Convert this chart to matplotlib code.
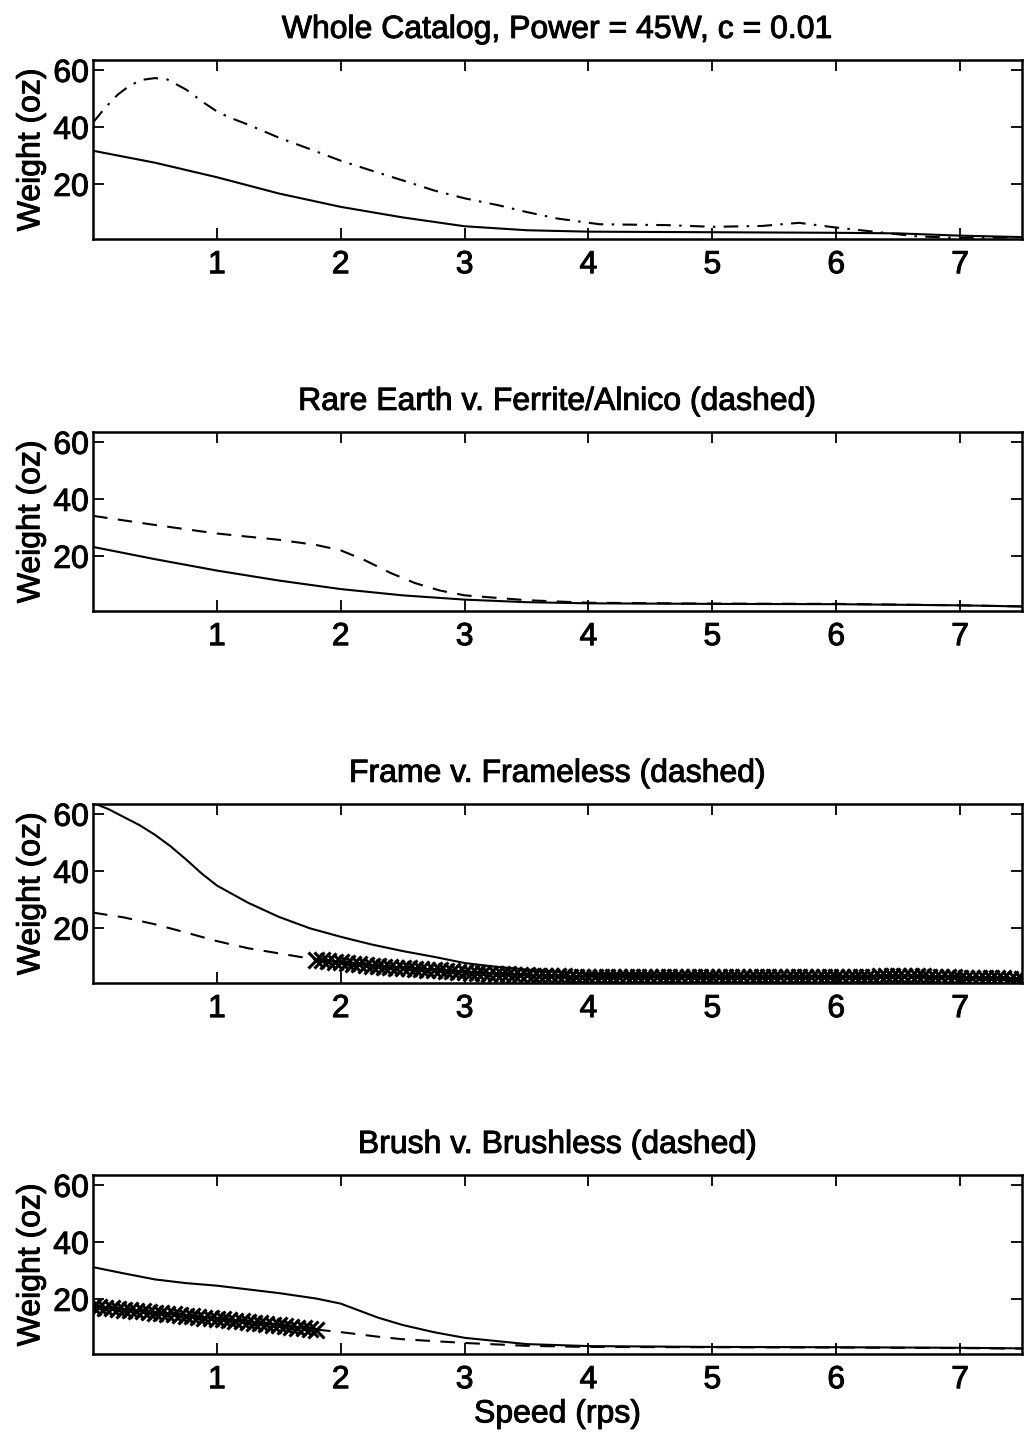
import numpy as np
import matplotlib

matplotlib.use("Agg")
import matplotlib.pyplot as plt
import matplotlib.patheffects as pe

plt.rcParams["font.family"] = ["Liberation Sans", "DejaVu Sans"]

# panel 1: whole catalog
p1_solid_x = [0, 0.5, 1, 1.5, 2, 2.5, 3, 3.5, 4, 5, 6, 6.5, 7, 7.5]
p1_solid_y = [31.8, 27.6, 22.5, 16.8, 12.1, 8.4, 5.3, 3.9, 3.4, 3.2, 3.0, 2.8, 2.0, 1.5]
p1_dashdot_x = [0, 0.1, 0.2, 0.3, 0.4, 0.5, 0.6, 0.75, 0.9, 1.0, 1.1, 1.25, 1.5, 1.75,
                2.0, 2.25, 2.5, 2.75, 3.0, 3.28, 3.5, 3.75, 4.09, 4.63, 5.0, 5.4, 5.7,
                5.97, 6.24, 6.64, 6.97, 7.5]
p1_dashdot_y = [41.7, 47.0, 51.5, 54.8, 56.7, 57.3, 56.8, 53.3, 48.5, 45.6, 43.5, 41.0,
                36.4, 32.4, 28.3, 24.8, 21.4, 17.9, 15.1, 12.6, 10.3, 8.0, 6.0, 5.7,
                5.1, 5.4, 6.5, 5.0, 3.7, 1.8, 1.2, 1.4]

# panel 2: rare earth (solid) v. ferrite/alnico (dashed)
p2_solid_x = [0, 0.5, 1, 1.5, 2, 2.5, 3, 3.5, 4, 5, 6, 7, 7.5]
p2_solid_y = [23.3, 19.0, 15.0, 11.5, 8.5, 6.3, 4.8, 3.9, 3.5, 3.3, 3.2, 2.8, 2.4]
p2_dash_x = [0, 0.5, 1, 1.5, 1.8, 2, 2.2, 2.4, 2.6, 2.8, 3, 3.5, 4, 5, 6, 7, 7.5]
p2_dash_y = [34.2, 31.0, 28.0, 25.8, 24.0, 22.1, 18.5, 14.2, 10.6, 8.0, 6.3, 4.6, 3.7,
             3.4, 3.3, 2.8, 2.4]

# panel 3: frame (solid) v. frameless (dashed, x marks)
p3_solid_x = [0, 0.125, 0.25, 0.375, 0.5, 0.625, 0.75, 0.875, 1, 1.25, 1.5, 1.75, 2,
              2.25, 2.5, 2.75, 3, 3.25, 3.5, 4, 5, 6, 6.5, 7, 7.5]
p3_solid_y = [64.0, 61.8, 59.0, 56.2, 52.8, 48.8, 44.2, 39.3, 35.0, 29.0, 24.0, 20.0,
              17.0, 14.3, 12.0, 10.0, 7.8, 6.5, 5.5, 4.0, 3.5, 3.3, 3.5, 2.8, 1.8]
p3_dash_x = [0, 0.25, 0.5, 0.75, 1.0, 1.25, 1.5, 1.8]
p3_dash_y = [25.5, 23.8, 21.4, 18.5, 15.5, 13.0, 11.2, 9.0]
p3_mark_x = np.linspace(1.8, 7.5, 115)  # sampled every 0.05 rps
p3_mark_y = [9.0, 8.7, 8.5, 8.2, 8.0, 7.7, 7.5, 7.3, 7.1, 6.9, 6.7, 6.5, 6.4, 6.2, 6.1,
             5.9, 5.8, 5.6, 5.5, 5.3, 5.2, 5.0, 4.9, 4.7, 4.6, 4.4, 4.3, 4.2, 4.1, 4.0,
             3.9, 3.8, 3.7, 3.6, 3.5, 3.4, 3.4, 3.3, 3.2, 3.1, 3.1, 3.0, 3.0, 3.0, 3.0,
             3.0, 2.9, 2.9, 2.9, 2.9, 2.9, 2.9, 2.9, 2.9, 2.9, 2.9, 2.9, 2.9, 2.9, 2.9,
             2.9, 2.9, 2.9, 2.9, 2.9, 2.9, 2.9, 2.9, 2.9, 2.9, 2.9, 2.9, 2.9, 2.9, 2.9,
             2.9, 2.9, 2.9, 2.9, 2.9, 2.9, 2.9, 2.9, 2.9, 2.9, 2.9, 2.9, 2.9, 2.9, 2.9,
             2.9, 3.1, 3.2, 3.3, 3.4, 3.4, 3.4, 3.3, 3.2, 3.0, 2.9, 2.9, 2.8, 2.8, 2.7,
             2.7, 2.6, 2.6, 2.5, 2.5, 2.4, 2.4, 2.3, 2.3, 2.2]

# panel 4: brush (solid) v. brushless (dashed, x marks)
p4_solid_x = [0, 0.25, 0.5, 0.75, 1, 1.5, 1.8, 2, 2.3, 2.5, 2.75, 3, 3.5, 4, 5, 6, 7,
              7.5]
p4_solid_y = [31.3, 29.1, 27.0, 25.7, 24.8, 22.2, 20.3, 18.5, 13.6, 11.0, 8.5, 6.5, 4.3,
              3.6, 3.3, 3.2, 3.0, 2.8]
p4_dash_x = [1.8, 2.0, 2.3, 2.5, 3.0, 3.5, 4.0, 5, 6, 7, 7.5]
p4_dash_y = [9.4, 8.5, 6.9, 6.0, 4.7, 3.7, 3.3, 3.2, 3.1, 2.9, 2.7]
p4_mark_x = np.linspace(0, 1.8, 37)  # sampled every 0.05 rps
p4_mark_y = [17.4, 17.2, 17.0, 16.8, 16.6, 16.4, 16.2, 16.0, 15.8, 15.5, 15.3, 15.1,
             14.9, 14.7, 14.5, 14.3, 14.0, 13.8, 13.6, 13.4, 13.2, 13.0, 12.7, 12.5,
             12.3, 12.0, 11.8, 11.6, 11.3, 11.1, 10.9, 10.6, 10.4, 10.1, 9.9, 9.6, 9.4]

titles = ["Whole Catalog, Power = 45W, c = 0.01",
          "Rare Earth v. Ferrite/Alnico (dashed)",
          "Frame v. Frameless (dashed)",
          "Brush v. Brushless (dashed)"]

FS = 23
LW = 1.5
DASH = (0, (7, 5))
DASHDOT = (0, (7, 4, 1.2, 4))
THICK = [pe.withStroke(linewidth=0.7, foreground="k")]  # scanned text looks heavy

fig = plt.figure(figsize=(10.29, 14.35), dpi=100)
bottoms = [0.8334, 0.5742, 0.3150, 0.0564]
axes = [fig.add_axes([0.0904, b, 0.9028, 0.1247]) for b in bottoms]

a1, a2, a3, a4 = axes
a1.plot(p1_solid_x, p1_solid_y, color="k", lw=LW)
a1.plot(p1_dashdot_x, p1_dashdot_y, color="k", lw=LW, linestyle=DASHDOT)

a2.plot(p2_solid_x, p2_solid_y, color="k", lw=LW)
a2.plot(p2_dash_x, p2_dash_y, color="k", lw=LW, linestyle=DASH)

mk = dict(color="k", lw=LW, marker="x", markersize=11, mew=2.2)
a3.plot(p3_solid_x, p3_solid_y, color="k", lw=LW)
a3.plot(p3_dash_x, p3_dash_y, color="k", lw=LW, linestyle=DASH)
a3.plot(p3_mark_x, p3_mark_y, **mk)

a4.plot(p4_solid_x, p4_solid_y, color="k", lw=LW)
a4.plot(p4_dash_x, p4_dash_y, color="k", lw=LW, linestyle=DASH)
a4.plot(p4_mark_x, p4_mark_y, **mk)

for ax, t in zip(axes, titles):
    ax.set_xlim(0, 7.5)
    ax.set_ylim(0.8, 63.6)
    ax.set_xticks([1, 2, 3, 4, 5, 6, 7])
    ax.set_yticks([20, 40, 60])
    ax.tick_params(direction="in", top=True, right=True, length=8, width=1.3,
                   labelsize=FS)
    ax.tick_params(axis="x", pad=8)
    ax.tick_params(axis="y", pad=3)
    for sp in ax.spines.values():
        sp.set_linewidth(1.8)
    ax.set_title(t, fontsize=FS, pad=16, path_effects=THICK)
    ax.set_ylabel("Weight (oz)", fontsize=FS, labelpad=5, path_effects=THICK)
    for lab in ax.get_xticklabels() + ax.get_yticklabels():
        lab.set_path_effects(THICK)

a4.set_xlabel("Speed (rps)", fontsize=FS, labelpad=3, path_effects=THICK)

fig.savefig("out.png")
